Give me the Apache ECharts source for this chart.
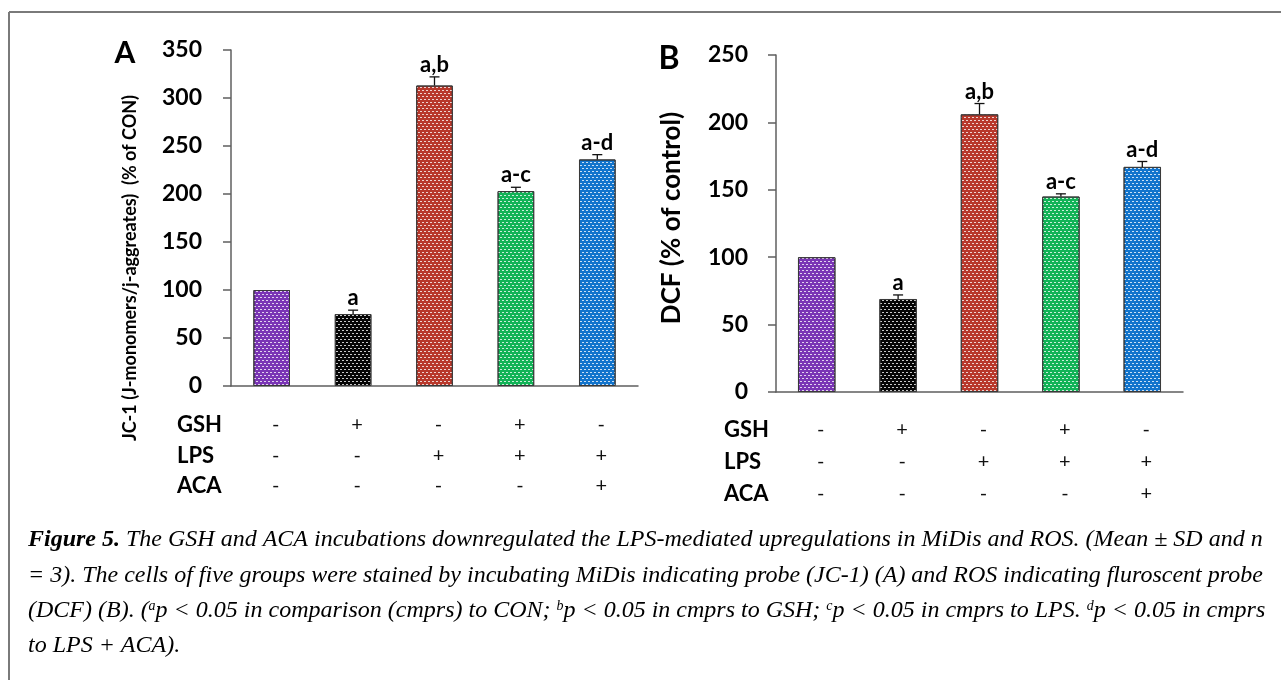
<!DOCTYPE html>
<html><head><meta charset="utf-8">
<script src="https://cdn.jsdelivr.net/npm/echarts@6.0.0/dist/echarts.min.js"></script>
<style>html,body{margin:0;padding:0;background:#fff}#chart{width:1281px;height:680px}</style>
</head><body><div id="chart"></div>
<script>
// ---------------- data ----------------
const groups = ['CON', 'GSH', 'LPS', 'GSH+LPS', 'LPS+ACA'];
const jc1Mean = [100, 75, 313, 203, 236];
const jc1SD   = [0, 4, 9, 4, 5];
const jc1Sig  = ['', 'a', 'a,b', 'a-c', 'a-d'];
const dcfMean = [100, 69, 206, 145, 167];
const dcfSD   = [0, 3, 8, 2, 4];
const dcfSig  = ['', 'a', 'a,b', 'a-c', 'a-d'];
const rowNames = ['GSH', 'LPS', 'ACA'];
const rowGSH = ['-', '+', '-', '+', '-'];
const rowLPS = ['-', '-', '+', '+', '+'];
const rowACA = ['-', '-', '-', '-', '+'];
const yTicksA = [0, 50, 100, 150, 200, 250, 300, 350];
const yTicksB = [0, 50, 100, 150, 200, 250];
const titleA = 'JC-1 (J-monomers/j-aggreates)  (% of CON)';
const titleB = 'DCF (% of control)';
const captionLines = [
  '{b|Figure 5.} The GSH and ACA incubations downregulated the LPS-mediated upregulations in MiDis and ROS. (Mean \u00b1 SD and n',
  '= 3). The cells of five groups were stained by incubating MiDis indicating probe (JC-1) (A) and ROS indicating fluroscent probe',
  '(DCF) (B). ({s|a}p < 0.05 in comparison (cmprs) to CON; {s|b}p < 0.05 in cmprs to GSH; {s|c}p < 0.05 in cmprs to LPS. {s|d}p < 0.05 in cmprs',
  'to LPS + ACA).'
];

// ---------------- style ----------------
const BAR_COLORS = ['#7A35B5', '#050505', '#B8382B', '#12B357', '#1274CC'];
const AXIS_COLOR = '#5f5f5f';
const SANS = 'Lato';
const SERIF = '"Liberation Serif"';
const CAP_SIZE = 24;

const rows = [rowGSH, rowLPS, rowACA];

function panel(gi, xBase, cfg, means, sds, sigs, ticks) {
  const xAxes = [{
    gridIndex: gi, type: 'category', data: groups, position: 'bottom',
    axisLine: {show: true, onZero: false, lineStyle: {color: AXIS_COLOR, width: 1.5}},
    axisTick: {show: false}, axisLabel: {show: false}
  }];
  rows.forEach((r, k) => {
    xAxes.push({
      gridIndex: gi, type: 'category', data: r, position: 'bottom', offset: cfg.rowOffsets[k],
      axisLine: {show: false, onZero: false}, axisTick: {show: false}, splitLine: {show: false},
      axisLabel: {interval: 0, margin: 0, verticalAlign: 'middle', padding: [0, 0, 0, 8],
        color: '#111', fontFamily: SANS, fontSize: 20},
      name: rowNames[k], nameLocation: 'start', nameGap: cfg.nameGap,
      nameTextStyle: {align: 'left', verticalAlign: 'middle', color: '#000',
        fontFamily: SANS, fontWeight: 'bold', fontSize: 22}
    });
  });
  const yAxis = {
    gridIndex: gi, type: 'value', min: ticks[0], max: ticks[ticks.length - 1],
    interval: ticks[1] - ticks[0],
    axisLine: {show: true, lineStyle: {color: AXIS_COLOR, width: 1.5}},
    axisTick: {show: true, inside: false, length: 8, lineStyle: {color: AXIS_COLOR, width: 1.5}},
    axisLabel: {margin: cfg.labelMargin, color: '#000', fontFamily: SANS, fontWeight: 'bold', fontSize: 23},
    splitLine: {show: false}
  };
  const xi = xBase, yi = gi;
  const series = [{
    type: 'bar', xAxisIndex: xi, yAxisIndex: yi, barWidth: cfg.barWidth,
    data: means.map((v, i) => ({value: v, itemStyle: {color: BAR_COLORS[i]}})),
    itemStyle: {
      borderColor: '#3a3a3a', borderWidth: 1,
      decal: {symbol: 'rect', symbolSize: 1, color: 'rgba(255,255,255,0.78)',
        dashArrayX: [[2, 2], [0, 2, 2, 0]], dashArrayY: [1, 2], rotation: 0}
    },
    emphasis: {disabled: true}, animation: false
  }, {
    type: 'custom', xAxisIndex: xi, yAxisIndex: yi, z: 5, animation: false,
    data: means.map((v, i) => [i, v]),
    renderItem(params, api) {
      const idx = params.dataIndex;
      const m = api.value(1);
      const top = m + sds[idx];
      const pb = api.coord([api.value(0), m]);
      const pt = api.coord([api.value(0), top]);
      const st = {stroke: '#111', lineWidth: 1.3};
      const ch = [];
      if (top > m) {
        ch.push({type: 'line', shape: {x1: pt[0], y1: pb[1], x2: pt[0], y2: pt[1]}, style: st});
        ch.push({type: 'line', shape: {x1: pt[0] - 5, y1: pt[1], x2: pt[0] + 5, y2: pt[1]}, style: st});
      }
      if (sigs[idx]) {
        ch.push({type: 'text', x: pt[0], y: pt[1] - 1,
          style: {text: sigs[idx], align: 'center', verticalAlign: 'bottom', fill: '#000',
            fontFamily: SANS, fontWeight: 'bold', fontSize: cfg.sigSize}});
      }
      return {type: 'group', children: ch};
    }
  }];
  return {xAxes, yAxis, series};
}

const pA = panel(0, 0, {rowOffsets: [39, 70, 100], nameGap: 54, labelMargin: 29, barWidth: '45%', sigSize: 22},
  jc1Mean, jc1SD, jc1Sig, yTicksA);
const pB = panel(1, 4, {rowOffsets: [38, 70, 102], nameGap: 52, labelMargin: 28, barWidth: '46%', sigSize: 22},
  dcfMean, dcfSD, dcfSig, yTicksB);

const capStyle = {fontStyle: 'italic', fontSize: CAP_SIZE, fontFamily: SERIF, fill: '#000'};
const graphic = [
  {type: 'line', shape: {x1: 9, y1: 12, x2: 1281, y2: 12}, style: {stroke: '#7a7a7a', lineWidth: 2}},
  {type: 'line', shape: {x1: 9, y1: 12, x2: 9, y2: 680}, style: {stroke: '#7a7a7a', lineWidth: 2}},
  {type: 'text', x: 125, y: 53, style: {text: 'A', align: 'center', verticalAlign: 'middle',
    fontFamily: SANS, fontWeight: 'bold', fontSize: 30, fill: '#000'}},
  {type: 'text', x: 669, y: 59, style: {text: 'B', align: 'center', verticalAlign: 'middle',
    fontFamily: SANS, fontWeight: 'bold', fontSize: 32, fill: '#000'}},
  {type: 'text', x: 130, y: 268, rotation: Math.PI / 2, style: {text: titleA, align: 'center',
    verticalAlign: 'middle', fontFamily: SANS, fontWeight: 'bold', fontSize: 18, fill: '#000'}},
  {type: 'text', x: 672, y: 218, rotation: Math.PI / 2, style: {text: titleB, align: 'center',
    verticalAlign: 'middle', fontFamily: SANS, fontWeight: 'bold', fontSize: 26, fill: '#000'}}
];
const capY = [540, 576, 611, 646];
captionLines.forEach((t, i) => {
  graphic.push({type: 'text', x: 28, y: capY[i], style: Object.assign({}, capStyle, {
    text: t, align: 'left', verticalAlign: 'middle',
    rich: {
      b: {fontStyle: 'italic', fontWeight: 'bold', fontSize: CAP_SIZE, fontFamily: SERIF, fill: '#000'},
      s: {fontStyle: 'italic', fontSize: 14, fontFamily: SERIF, fill: '#000', verticalAlign: 'top'}
    }
  })});
});

const option = {
  backgroundColor: '#fff',
  animation: false,
  grid: [
    {left: 231, top: 50, width: 407, height: 336, outerBoundsMode: 'none', containLabel: false},
    {left: 776, top: 55, width: 407, height: 337, outerBoundsMode: 'none', containLabel: false}
  ],
  xAxis: pA.xAxes.concat(pB.xAxes),
  yAxis: [pA.yAxis, pB.yAxis],
  series: pA.series.concat(pB.series),
  graphic: graphic
};
const chart = echarts.init(document.getElementById('chart'), null, {renderer: 'canvas'});
chart.setOption(option);
</script></body></html>
